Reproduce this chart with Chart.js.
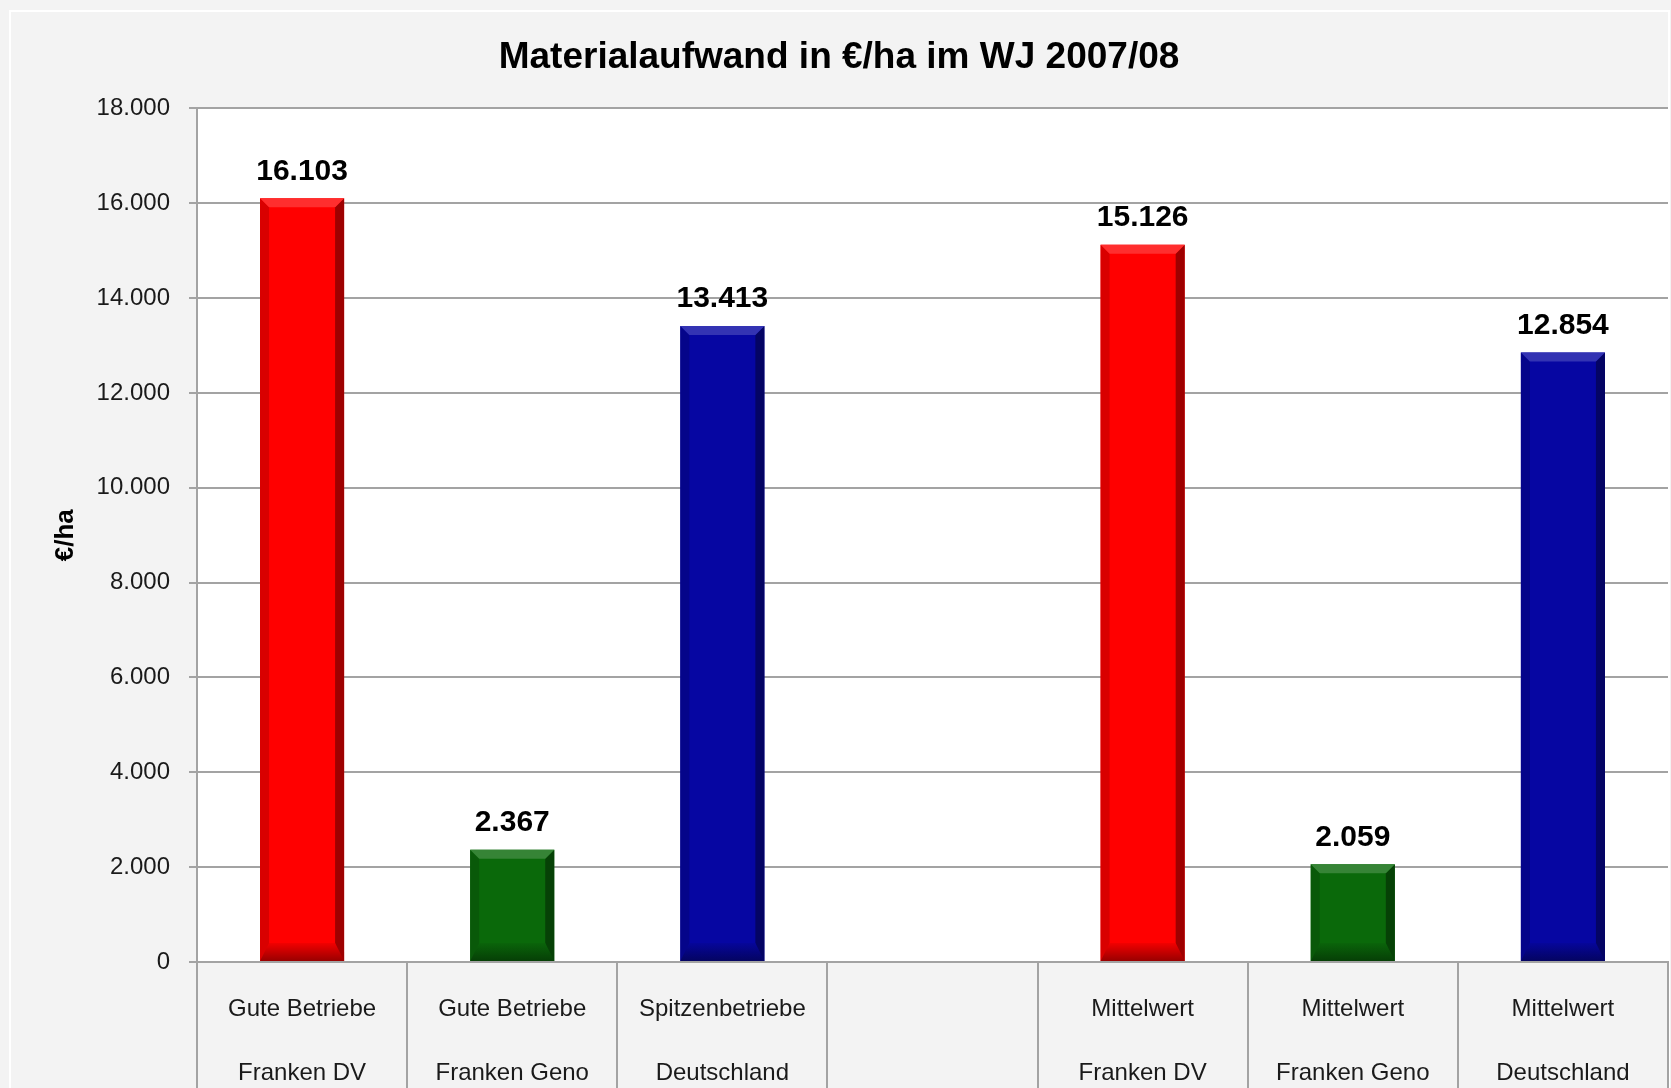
<!DOCTYPE html>
<html><head><meta charset="utf-8">
<script src="https://cdn.jsdelivr.net/npm/chart.js@4.4.1/dist/chart.umd.min.js"></script>
<style>html,body{margin:0;padding:0;background:#f3f3f3;overflow:hidden}</style>
</head><body><canvas id="c" width="1671" height="1088"></canvas>
<script>
// ---- data ----
const chartTitle = 'Materialaufwand in €/ha im WJ 2007/08';
const yAxisTitle = '€/ha';
const categoryLine1 = ['Gute Betriebe', 'Gute Betriebe', 'Spitzenbetriebe', '', 'Mittelwert', 'Mittelwert', 'Mittelwert'];
const categoryLine2 = ['Franken DV', 'Franken Geno', 'Deutschland', '', 'Franken DV', 'Franken Geno', 'Deutschland'];
const values = [16103, 2367, 13413, null, 15126, 2059, 12854];
const yMin = 0, yMax = 18000, yStep = 2000;

// ---- style ----
const FONT = '"Liberation Sans", Arial, sans-serif';
const barColors = ['#ff0000', '#0a690a', '#0606a2', '#ffffff', '#ff0000', '#0a690a', '#0606a2'];
const GRID = '#a3a3a3';

function fmt(v) {
  return String(Math.round(v)).replace(/\B(?=(\d{3})+(?!\d))/g, '.');
}
function shade(hex, f) {
  const n = parseInt(hex.slice(1), 16);
  let r = n >> 16, g = (n >> 8) & 255, b = n & 255;
  const t = f < 0 ? 0 : 255, p = Math.abs(f);
  r = Math.round(r + (t - r) * p); g = Math.round(g + (t - g) * p); b = Math.round(b + (t - b) * p);
  return `rgb(${r},${g},${b})`;
}

const backgroundPlugin = {
  id: 'bg',
  beforeDraw(chart) {
    const ctx = chart.ctx, a = chart.chartArea;
    ctx.save();
    ctx.fillStyle = '#f3f3f3';
    ctx.fillRect(0, 0, chart.width, chart.height);
    ctx.strokeStyle = '#ffffff';
    ctx.lineWidth = 2;
    ctx.strokeRect(10, 11, chart.width - 12, chart.height + 20);
    ctx.fillStyle = '#ffffff';
    ctx.fillRect(a.left, a.top, a.right - a.left, a.bottom - a.top);
    ctx.restore();
  }
};

function poly(ctx, pts, color) {
  ctx.beginPath();
  ctx.moveTo(pts[0][0], pts[0][1]);
  for (let i = 1; i < pts.length; i++) ctx.lineTo(pts[i][0], pts[i][1]);
  ctx.closePath();
  ctx.fillStyle = color;
  ctx.fill();
}

const bevelPlugin = {
  id: 'bevel',
  afterDatasetsDraw(chart) {
    const ctx = chart.ctx;
    const meta = chart.getDatasetMeta(0);
    meta.data.forEach((el, i) => {
      if (values[i] == null) return;
      const p = el.getProps(['x', 'y', 'base', 'width'], true);
      const l = p.x - p.width / 2, r = p.x + p.width / 2, t = p.y, b = p.base, bv = 9;
      const c = barColors[i];
      ctx.save();
      poly(ctx, [[l, t], [l + bv, t + bv], [l + bv, b - bv], [l, b]], shade(c, -0.15));
      poly(ctx, [[r, t], [r - bv, t + bv], [r - bv, b - bv], [r, b]], shade(c, -0.38));
      poly(ctx, [[l, t], [r, t], [r - bv, t + bv], [l + bv, t + bv]], shade(c, 0.18));
      const g = ctx.createLinearGradient(0, b - 2 * bv, 0, b);
      g.addColorStop(0, shade(c, -0.05));
      g.addColorStop(1, shade(c, -0.4));
      poly(ctx, [[l, b], [r, b], [r - bv, b - 2 * bv], [l + bv, b - 2 * bv]], g);
      ctx.restore();
    });
  }
};

const labelPlugin = {
  id: 'valueLabels',
  afterDatasetsDraw(chart) {
    const ctx = chart.ctx;
    const meta = chart.getDatasetMeta(0);
    ctx.save();
    ctx.font = 'bold 30px ' + FONT;
    ctx.fillStyle = '#000000';
    ctx.textAlign = 'center';
    ctx.textBaseline = 'middle';
    meta.data.forEach((el, i) => {
      if (values[i] == null) return;
      ctx.fillText(fmt(values[i]), el.x, el.y - 27);
    });
    ctx.restore();
  }
};

const labels = categoryLine1.map((l, i) => [l, categoryLine2[i]]);

new Chart(document.getElementById('c'), {
  type: 'bar',
  data: {
    labels: labels,
    datasets: [{
      data: values,
      backgroundColor: barColors,
      borderWidth: 0,
      categoryPercentage: 1.0,
      barPercentage: 0.4
    }]
  },
  options: {
    responsive: false,
    animation: false,
    layout: { padding: { left: 10, right: 3, top: 0, bottom: 0 } },
    plugins: {
      legend: { display: false },
      tooltip: { enabled: false },
      title: {
        display: true,
        text: chartTitle,
        color: '#000000',
        font: { family: FONT, size: 37, weight: 'bold', lineHeight: 1.2 },
        padding: { top: 36, bottom: 28 }
      }
    },
    scales: {
      x: {
        grid: { display: true, drawOnChartArea: false, offset: true, tickLength: 130, color: GRID, lineWidth: 2 },
        border: { display: true, color: GRID, width: 2 },
        ticks: {
          padding: -115, color: '#1a1a1a', maxRotation: 0, autoSkip: false,
          font: { family: FONT, size: 24, lineHeight: 2.67 }
        },
        afterFit(s) { s.height = 126; }
      },
      y: {
        min: yMin, max: yMax,
        ticks: {
          stepSize: yStep, padding: 19, color: '#1a1a1a',
          font: { family: FONT, size: 24 },
          callback: (v) => fmt(v)
        },
        grid: { color: GRID, lineWidth: 2, tickLength: 8 },
        border: { display: true, color: GRID, width: 2 },
        title: {
          display: true, text: yAxisTitle, color: '#000000',
          font: { family: FONT, size: 26, weight: 'bold', lineHeight: 1.2 },
          padding: { top: 40, bottom: 0 }
        },
        afterFit(s) { s.width = 187; }
      }
    }
  },
  plugins: [backgroundPlugin, bevelPlugin, labelPlugin]
});
</script>
</body></html>
